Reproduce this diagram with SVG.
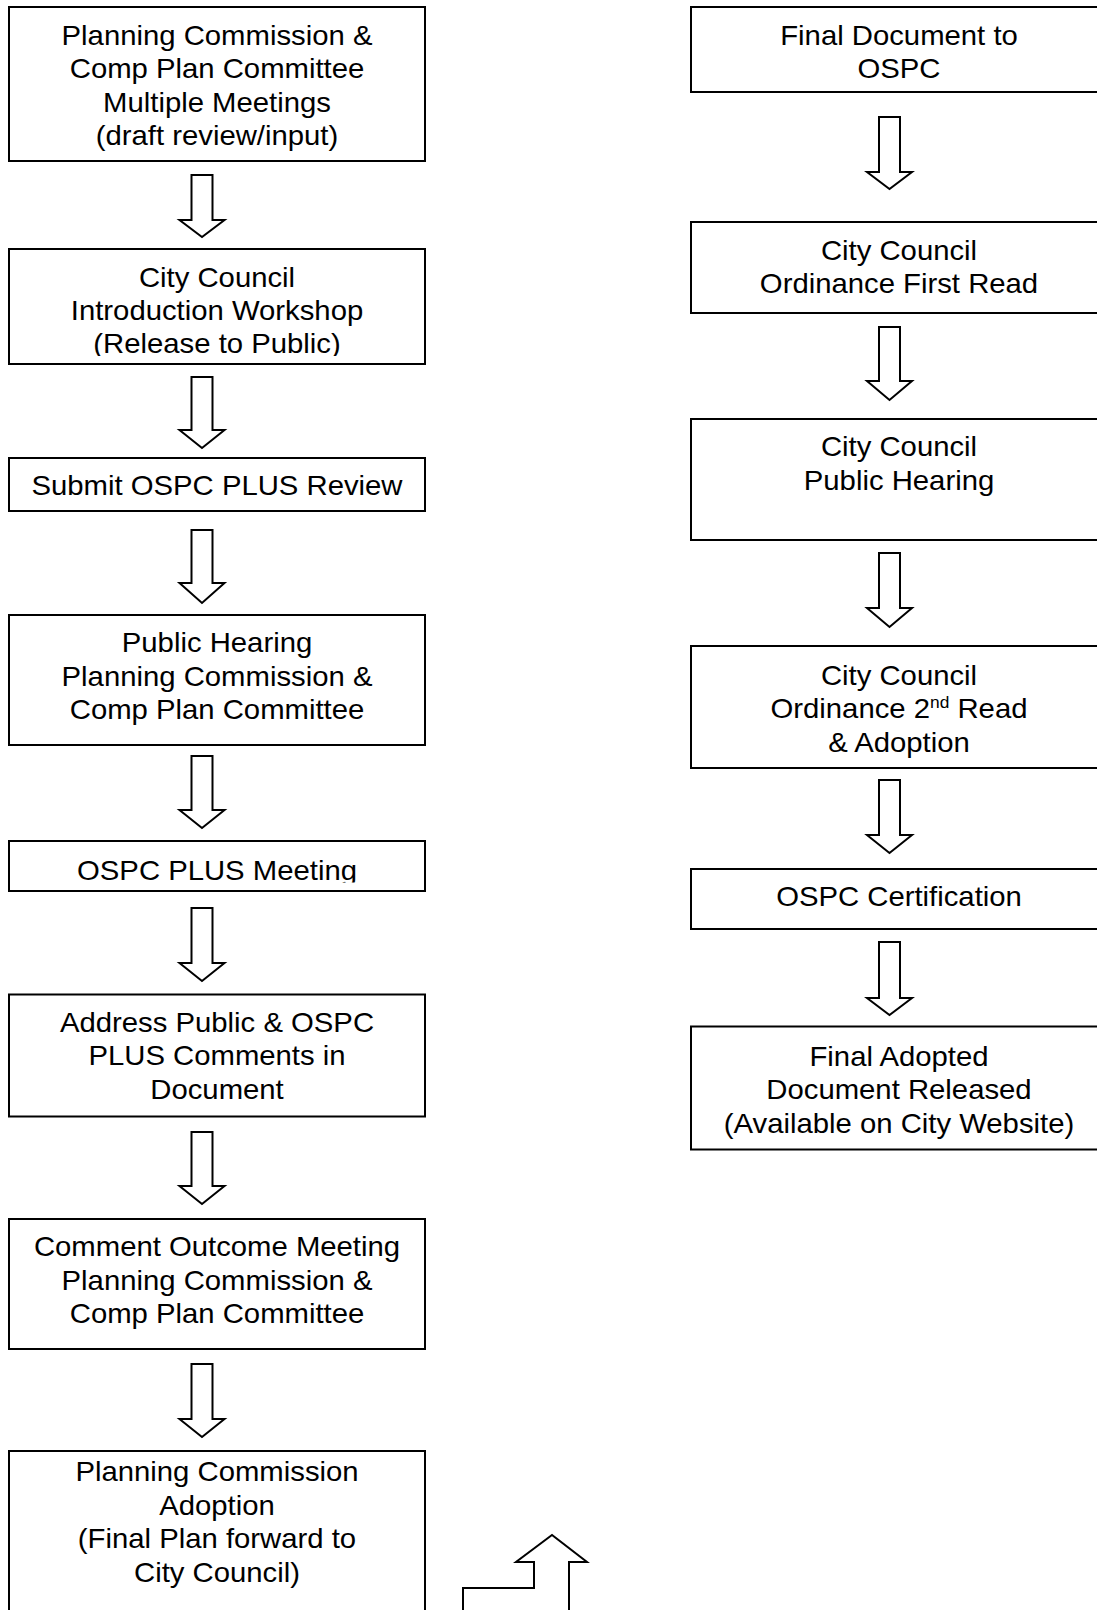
<svg xmlns="http://www.w3.org/2000/svg" width="1097" height="1610" viewBox="0 0 1097 1610">
<style>
.box{fill:#fff;stroke:#000;stroke-width:2}
.arr{fill:#fff;stroke:#000;stroke-width:2;stroke-linejoin:miter}
.t{font-family:"Liberation Sans",Arial,sans-serif;font-size:27px;fill:#000;text-anchor:middle}
.sup{font-size:16px}
</style>
<defs>
<clipPath id="c2"><rect x="0" y="240" width="440" height="116"/></clipPath>
<clipPath id="c5"><rect x="0" y="830" width="440" height="52.5"/></clipPath>
</defs>
<rect width="1097" height="1610" fill="#fff"/>
<g id="connectors">
<polygon class="arr" points="191.5,175 212.5,175 212.5,220 224.5,220 202,237 179.5,220 191.5,220"/>
<polygon class="arr" points="191.5,377 212.5,377 212.5,430 224.5,430 202,448 179.5,430 191.5,430"/>
<polygon class="arr" points="191.5,530 212.5,530 212.5,583 224.5,583 202,603 179.5,583 191.5,583"/>
<polygon class="arr" points="191.5,756 212.5,756 212.5,810 224.5,810 202,828 179.5,810 191.5,810"/>
<polygon class="arr" points="191.5,908 212.5,908 212.5,963 224.5,963 202,981 179.5,963 191.5,963"/>
<polygon class="arr" points="191.5,1132 212.5,1132 212.5,1186 224.5,1186 202,1204 179.5,1186 191.5,1186"/>
<polygon class="arr" points="191.5,1364 212.5,1364 212.5,1419 224.5,1419 202,1437 179.5,1419 191.5,1419"/>
<polygon class="arr" points="879,117 900,117 900,172 912,172 889.5,189 867,172 879,172"/>
<polygon class="arr" points="879,327 900,327 900,381 912,381 889.5,400 867,381 879,381"/>
<polygon class="arr" points="879,553 900,553 900,608 912,608 889.5,627 867,608 879,608"/>
<polygon class="arr" points="879,780 900,780 900,835 912,835 889.5,853 867,835 879,835"/>
<polygon class="arr" points="879,942 900,942 900,998 912,998 889.5,1015 867,998 879,998"/>
<polygon class="arr" points="463,1625 463,1588 534,1588 534,1562 516,1562 552,1535 587,1562 569,1562 569,1625"/>
</g>
<g id="n1"><rect class="box" x="9" y="7" width="416" height="154"/>
<g transform="translate(217 0) scale(1.085 1)"><text class="t" x="0" y="45">Planning Commission &amp;</text><text class="t" x="0" y="78.4">Comp Plan Committee</text><text class="t" x="0" y="111.8">Multiple Meetings</text><text class="t" x="0" y="145.2">(draft review/input)</text></g></g>
<g id="n2"><rect class="box" x="9" y="249" width="416" height="115"/>
<g clip-path="url(#c2)"><g transform="translate(217 0) scale(1.085 1)"><text class="t" x="0" y="286.7">City Council</text><text class="t" x="0" y="320.1">Introduction Workshop</text><text class="t" x="0" y="353.5">(Release to Public)</text></g></g></g>
<g id="n3"><rect class="box" x="9" y="458" width="416" height="53"/>
<g transform="translate(217 0) scale(1.085 1)"><text class="t" x="0" y="495.5">Submit OSPC PLUS Review</text></g></g>
<g id="n4"><rect class="box" x="9" y="615" width="416" height="130"/>
<g transform="translate(217 0) scale(1.085 1)"><text class="t" x="0" y="652.5">Public Hearing</text><text class="t" x="0" y="686">Planning Commission &amp;</text><text class="t" x="0" y="719.5">Comp Plan Committee</text></g></g>
<g id="n5"><rect class="box" x="9" y="841" width="416" height="50"/>
<g clip-path="url(#c5)"><g transform="translate(217 0) scale(1.085 1)"><text class="t" x="0" y="880">OSPC PLUS Meeting</text></g></g></g>
<g id="n6"><rect class="box" x="9" y="994.5" width="416" height="122"/>
<g transform="translate(217 0) scale(1.085 1)"><text class="t" x="0" y="1032">Address Public &amp; OSPC</text><text class="t" x="0" y="1065.5">PLUS Comments in</text><text class="t" x="0" y="1099">Document</text></g></g>
<g id="n7"><rect class="box" x="9" y="1219" width="416" height="130"/>
<g transform="translate(217 0) scale(1.085 1)"><text class="t" x="0" y="1256.5">Comment Outcome Meeting</text><text class="t" x="0" y="1290">Planning Commission &amp;</text><text class="t" x="0" y="1323.5">Comp Plan Committee</text></g></g>
<g id="n8"><rect class="box" x="9" y="1451" width="416" height="180"/>
<g transform="translate(217 0) scale(1.085 1)"><text class="t" x="0" y="1481.5">Planning Commission</text><text class="t" x="0" y="1515">Adoption</text><text class="t" x="0" y="1548.5">(Final Plan forward to</text><text class="t" x="0" y="1582">City Council)</text></g></g>
<g id="r1"><rect class="box" x="691" y="7" width="416" height="85"/>
<g transform="translate(899 0) scale(1.085 1)"><text class="t" x="0" y="45">Final Document to</text><text class="t" x="0" y="78.4">OSPC</text></g></g>
<g id="r2"><rect class="box" x="691" y="222" width="416" height="91"/>
<g transform="translate(899 0) scale(1.085 1)"><text class="t" x="0" y="260">City Council</text><text class="t" x="0" y="293.4">Ordinance First Read</text></g></g>
<g id="r3"><rect class="box" x="691" y="419" width="416" height="121"/>
<g transform="translate(899 0) scale(1.085 1)"><text class="t" x="0" y="456.5">City Council</text><text class="t" x="0" y="490">Public Hearing</text></g></g>
<g id="r4"><rect class="box" x="691" y="646" width="416" height="122"/>
<g transform="translate(899 0) scale(1.085 1)"><text class="t" x="0" y="685">City Council</text><text class="t" x="0" y="718.4">Ordinance 2<tspan class="sup" dy="-10">nd</tspan><tspan dy="10"> Read</tspan></text><text class="t" x="0" y="751.8">&amp; Adoption</text></g></g>
<g id="r5"><rect class="box" x="691" y="869" width="416" height="60"/>
<g transform="translate(899 0) scale(1.085 1)"><text class="t" x="0" y="906">OSPC Certification</text></g></g>
<g id="r6"><rect class="box" x="691" y="1026.5" width="416" height="123"/>
<g transform="translate(899 0) scale(1.085 1)"><text class="t" x="0" y="1066">Final Adopted</text><text class="t" x="0" y="1099.4">Document Released</text><text class="t" x="0" y="1132.8">(Available on City Website)</text></g></g>
</svg>
